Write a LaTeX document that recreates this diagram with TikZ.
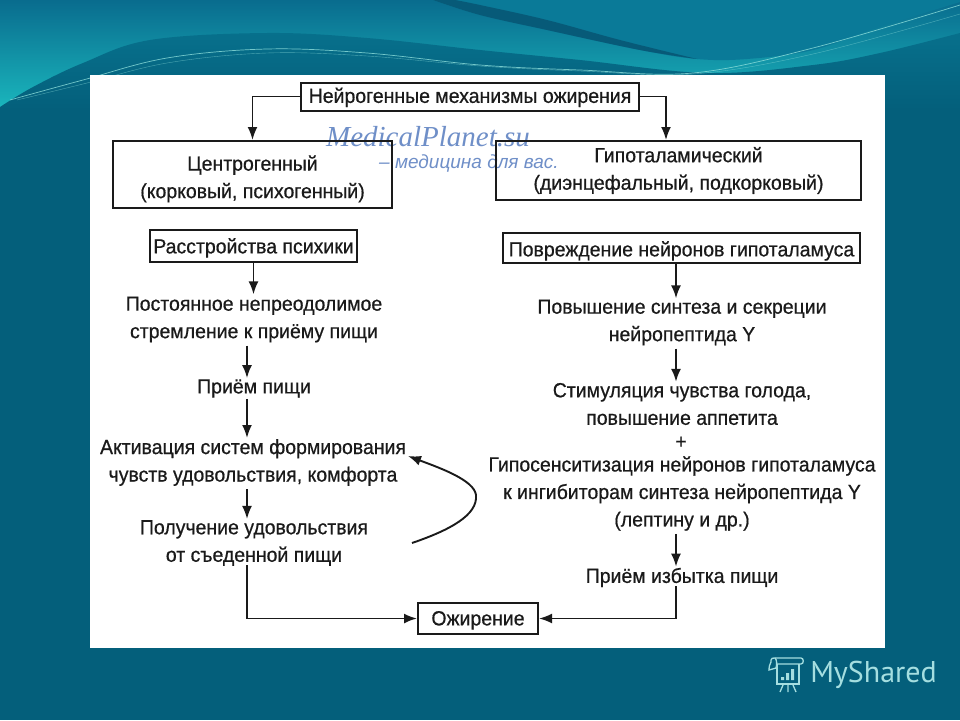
\documentclass[tikz,border=0pt]{standalone}
\usepackage{fontspec}
\setmainfont[FakeStretch=0.95,FakeBold=0.6]{Liberation Sans}
\newfontfamily\wmserif{Liberation Serif}
\newfontfamily\wmsans{Liberation Sans}
\newfontfamily\logofont{PT Sans}
\usetikzlibrary{arrows.meta,calc}
\definecolor{basebg}{HTML}{045F7B}
\definecolor{ink}{HTML}{1A1A1A}
\definecolor{wmblue}{HTML}{6F8FC8}
\definecolor{logoc}{HTML}{A5DEE0}
\definecolor{skytop}{HTML}{096C8E}
\definecolor{skybot}{HTML}{1AB5BC}
\definecolor{skyright}{HTML}{0A7A98}
\definecolor{humptop}{HTML}{07708C}
\definecolor{stripe}{HTML}{075A78}
\definecolor{hair}{HTML}{8FE0DC}
\newcommand{\tp}[1]{\rule{0pt}{#1pt}}
\tikzset{
  x=1pt,y=-1pt,
  lab/.style={font=\fontsize{20.5}{27.5}\selectfont,text=ink,align=center,inner sep=1pt,yshift=-1.5pt},
  boxn/.style={font=\fontsize{20.5}{27.5}\selectfont,text=ink,align=center,draw=ink,line width=2pt,inner sep=0pt},
  conn/.style={draw=ink,line width=1.9pt,-{Latex[length=13pt,width=10pt]}},
  logoline/.style={draw=logoc,line width=1.3pt}
}
\begin{document}
\begin{tikzpicture}
\useasboundingbox (0,0) rectangle (960,720);
% background
\fill[basebg] (0,0) rectangle (960,720);
\shade[top color=skytop,bottom color=skybot] (0,0) rectangle (960,107);
% upper right sky
\fill[skyright] plot[smooth,tension=.6] coordinates {(433,0) (480,15) (547,30) (640,50) (697,59) (747,59) (813,50) (880,27) (960,2)} -- (960,0) -- cycle;
% dark stripe
\fill[stripe] plot[smooth,tension=.6] coordinates {(433,0) (480,15) (547,30) (640,50) (697,59)} -- plot[smooth,tension=.6] coordinates {(697,59) (620,40) (547,20) (480,5) (455,0)} -- cycle;
% underside of the hump
\shade[top color=humptop,middle color=basebg,bottom color=basebg]
  plot[smooth,tension=.6] coordinates {(0,107) (33,87) (83,63) (150,40) (267,33) (367,38) (480,50) (580,60) (707,73) (813,65) (880,53) (960,33)} -- (960,110) -- (0,110) -- cycle;
% hair lines
\draw[hair,line width=.7pt,opacity=.8] plot[smooth,tension=.6] coordinates {(10,100) (83,80) (167,58) (267,49) (367,53) (480,65) (580,70) (693,73) (813,48) (960,5)};
\draw[hair,line width=.4pt,opacity=.5] plot[smooth,tension=.6] coordinates {(17,100) (83,84) (167,63) (267,53) (367,56) (480,66) (580,71) (693,74) (813,54) (960,14)};
% white panel
\fill[white] (90,75) rectangle (885,648);
% watermark
\node[font=\wmserif\itshape\fontsize{29}{29}\selectfont,text=wmblue,inner sep=0pt] (wm1) at (428,137) {MedicalPlanet.su};
\node[font=\wmsans\itshape\fontsize{19}{19}\selectfont,text=wmblue,inner sep=0pt] (wm2) at (469,164) {– медицина для вас.};
% boxes
\node[boxn,minimum width=338pt,minimum height=28pt] (root) at (470,96.5) {\tp{17}Нейрогенные механизмы ожирения};
\node[boxn,minimum width=279pt,minimum height=67pt] (cen) at (252.5,174.5) {\tp{24}Центрогенный\\(корковый, психогенный)};
\node[boxn,minimum width=365pt,minimum height=59pt] (hyp) at (678.5,170.5) {Гипоталамический\\(диэнцефальный, подкорковый)};
\node[boxn,minimum width=207pt,minimum height=32pt] (psy) at (253.5,246) {\tp{19}Расстройства психики};
\node[boxn,minimum width=357pt,minimum height=30pt] (dmg) at (681.5,248) {\tp{21}Повреждение нейронов гипоталамуса};
\node[boxn,minimum width=120pt,minimum height=31pt] (obe) at (478,618.5) {\tp{18}Ожирение};
% text
\node[lab] (a1) at (254,318) {Постоянное непреодолимое\\стремление к приёму пищи};
\node[lab] (a2) at (254,387) {Приём пищи};
\node[lab] (a3) at (253,461) {Активация систем формирования\\чувств удовольствия, комфорта};
\node[lab] (a4) at (254,541.5) {Получение удовольствия\\от съеденной пищи};
\node[lab] (b1) at (682,321) {Повышение синтеза и секреции\\нейропептида Y};
\node[lab] (b2) at (682,402.5) {Стимуляция чувства голода,\\повышение аппетита};
\node[lab] (plus) at (681,441) {+};
\node[lab] (b3) at (682,492) {Гипосенситизация нейронов гипоталамуса\\к ингибиторам синтеза нейропептида Y\\(лептину и др.)};
\node[lab] (b4) at (682,576) {Приём избытка пищи};
% connectors
\draw[conn] (root.west) -| (cen.north);
\draw[conn] (root.east) -| ([xshift=-12.5pt]hyp.north);
\draw[conn] (psy.south) -- ([yshift=1pt,xshift=-.5pt]a1.north);
\draw[conn] ([xshift=-7pt,yshift=-2pt]a1.south) -- ([xshift=-7pt]a2.north);
\draw[conn] ([xshift=-7pt]a2.south) -- ([xshift=-6pt]a3.north);
\draw[conn] ([xshift=-6pt,yshift=-2pt]a3.south) -- ([xshift=-7pt]a4.north);
\draw[conn] ([xshift=-7pt,yshift=2pt]a4.south) |- (obe.west);
\draw[conn] ([xshift=-5.5pt]dmg.south) -- ([xshift=-6pt]b1.north);
\draw[conn] ([xshift=-6pt,yshift=-2pt]b1.south) -- ([xshift=-6pt]b2.north);
\draw[conn] ([xshift=-6pt,yshift=-2pt]b3.south) -- ([xshift=-6pt]b4.north);
\draw[conn] ([xshift=-6pt,yshift=2pt]b4.south) |- (obe.east);
\coordinate (cvs) at (412,543);
\coordinate (cve) at (408,456);
\draw[conn] (cvs) .. controls (450,530) and (478,515) .. (476,495) .. controls (474,480) and (440,468) .. (cve);
% logo
\node[font=\logofont\fontsize{30}{30}\selectfont,text=logoc,inner sep=0pt] (logo) at (873.5,675) {MyShared};
\draw[logoline] (771,662) -- (771,660) .. controls (771,658) and (773,658) .. (775,658) -- (801,658) .. controls (804,658) and (804,664) .. (801,664) -- (777,664);
\draw[logoline] (775,658) .. controls (777,660) and (777,664) .. (776,668) -- (769,670) .. controls (769,666) and (770,664) .. (771,662);
\draw[logoline] (777,664) -- (777,684) -- (799,684) -- (799,664);
\fill[logoc] (781,677) rectangle +(3,3) (786,673) rectangle +(3,7) (791,669) rectangle +(3,11);
\draw[logoline] (783,685) -- (780,692) (788,685) -- (788,692) (793,685) -- (796,692);
\end{tikzpicture}
\end{document}
